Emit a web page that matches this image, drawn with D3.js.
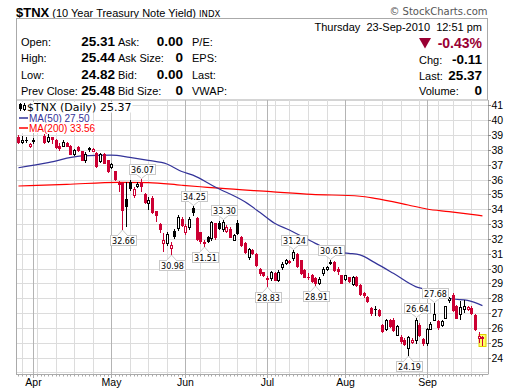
<!DOCTYPE html>
<html><head><meta charset="utf-8">
<script src="https://cdn.jsdelivr.net/npm/d3@7"></script>
<style>
html,body{margin:0;padding:0;background:#fff;}
svg{display:block;}
text{white-space:pre;}
</style></head>
<body><svg id="c" width="520" height="391"></svg>
<script>
// ---------------- DATA ----------------
const dates = [
"2010-03-26","2010-03-29","2010-03-30","2010-03-31",
"2010-04-01","2010-04-05","2010-04-06","2010-04-07","2010-04-08","2010-04-09","2010-04-12","2010-04-13","2010-04-14","2010-04-15","2010-04-16","2010-04-19","2010-04-20","2010-04-21","2010-04-22","2010-04-23","2010-04-26","2010-04-27","2010-04-28","2010-04-29","2010-04-30",
"2010-05-03","2010-05-04","2010-05-05","2010-05-06","2010-05-07","2010-05-10","2010-05-11","2010-05-12","2010-05-13","2010-05-14","2010-05-17","2010-05-18","2010-05-19","2010-05-20","2010-05-21","2010-05-24","2010-05-25","2010-05-26","2010-05-27","2010-05-28",
"2010-06-01","2010-06-02","2010-06-03","2010-06-04","2010-06-07","2010-06-08","2010-06-09","2010-06-10","2010-06-11","2010-06-14","2010-06-15","2010-06-16","2010-06-17","2010-06-18","2010-06-21","2010-06-22","2010-06-23","2010-06-24","2010-06-25","2010-06-28","2010-06-29","2010-06-30",
"2010-07-01","2010-07-02","2010-07-06","2010-07-07","2010-07-08","2010-07-09","2010-07-12","2010-07-13","2010-07-14","2010-07-15","2010-07-16","2010-07-19","2010-07-20","2010-07-21","2010-07-22","2010-07-23","2010-07-26","2010-07-27","2010-07-28","2010-07-29","2010-07-30",
"2010-08-02","2010-08-03","2010-08-04","2010-08-05","2010-08-06","2010-08-09","2010-08-10","2010-08-11","2010-08-12","2010-08-13","2010-08-16","2010-08-17","2010-08-18","2010-08-19","2010-08-20","2010-08-23","2010-08-24","2010-08-25","2010-08-26","2010-08-27","2010-08-30","2010-08-31",
"2010-09-01","2010-09-02","2010-09-03","2010-09-07","2010-09-08","2010-09-09","2010-09-10","2010-09-13","2010-09-14","2010-09-15","2010-09-16","2010-09-17","2010-09-20","2010-09-21","2010-09-22","2010-09-23"];

const open = [38.90,38.55,38.65,38.25,38.60,39.40,39.80,38.95,38.60,38.85,38.70,38.25,38.30,38.50,38.30,37.75,38.20,37.90,37.30,38.05,37.95,37.80,37.25,37.70,37.30,
36.85,36.55,35.75,35.80,34.70,35.85,34.95,35.60,35.75,35.05,34.45,34.75,33.85,33.00,31.70,31.75,31.40,32.55,32.75,33.35,
32.50,32.80,34.10,33.40,32.45,31.70,32.15,32.05,33.05,33.10,32.65,32.55,32.70,31.95,33.05,32.15,31.70,30.75,31.25,31.00,30.00,29.75,
29.35,29.35,29.70,29.25,30.10,30.38,30.48,30.70,30.95,30.55,29.90,29.45,29.60,29.35,29.05,29.70,30.00,30.40,30.45,29.95,29.55,
29.30,29.40,28.95,29.45,28.90,28.35,28.10,27.35,27.25,27.20,26.20,25.95,26.55,26.55,25.55,25.40,25.20,24.65,25.05,25.20,26.20,25.25,
24.95,25.95,26.55,26.45,26.20,26.70,27.85,28.25,27.50,26.95,27.25,27.30,27.35,26.85,25.35,25.31];
const high = [39.00,38.95,38.85,38.45,38.80,40.10,39.90,39.05,39.05,38.90,38.75,38.45,38.70,38.55,38.35,38.05,38.25,37.95,37.85,38.20,38.10,37.85,37.80,37.80,37.35,
37.15,36.60,35.90,35.85,35.85,35.95,35.50,35.82,36.07,35.10,34.80,34.90,33.90,33.05,32.40,32.45,31.82,32.70,33.60,33.45,
33.00,33.45,34.25,33.50,32.50,31.95,32.20,33.20,33.10,33.20,33.30,32.95,32.80,32.35,33.25,32.20,31.80,31.40,31.30,31.05,30.05,29.80,
29.50,29.85,29.75,29.90,30.45,30.65,30.60,31.24,31.05,30.60,29.95,29.70,29.65,29.40,29.40,30.10,30.15,30.61,30.50,30.10,29.60,
29.60,29.45,29.50,29.50,28.95,28.45,28.15,27.40,27.50,27.25,26.25,26.60,26.60,26.70,26.20,25.50,25.30,25.45,25.35,26.64,26.35,25.35,
26.00,26.40,27.68,26.50,26.55,27.50,28.10,28.35,27.55,27.80,27.85,27.50,27.45,26.95,25.70,25.44];
const low = [38.45,38.45,38.55,38.20,38.45,39.35,39.40,38.50,38.55,38.50,38.10,38.00,38.25,38.25,37.70,37.65,37.90,37.30,37.20,37.95,37.90,36.85,37.20,37.10,36.50,
36.80,35.95,35.20,32.66,32.90,35.30,34.85,35.50,35.20,34.40,34.00,33.75,33.20,32.50,31.20,31.60,30.98,32.05,32.60,32.85,
32.30,32.70,33.60,31.90,31.75,31.51,31.80,31.95,32.00,32.65,32.55,32.45,32.10,31.90,32.35,31.50,31.05,30.65,31.00,30.20,29.60,29.50,
28.83,29.20,29.20,29.15,30.00,30.30,30.35,30.60,30.10,29.65,29.40,29.30,29.10,28.91,28.95,29.60,29.90,30.30,29.85,29.65,29.00,
29.25,29.10,28.90,28.80,28.20,28.05,27.75,26.90,26.85,26.80,25.75,25.85,26.05,25.80,25.50,25.00,24.85,24.19,24.95,24.95,25.45,24.85,
24.85,25.90,26.50,25.95,26.15,26.65,27.75,27.15,26.65,26.60,27.10,27.20,26.95,25.85,25.05,24.82];
const close = [38.55,38.65,38.70,38.38,38.65,39.85,39.55,38.55,38.90,38.75,38.20,38.15,38.55,38.30,37.75,38.00,37.97,37.35,37.75,38.10,38.05,36.90,37.70,37.15,36.60,
37.05,36.05,35.70,33.95,34.25,35.45,35.40,35.70,35.55,34.50,34.65,33.80,33.60,32.65,31.95,32.35,31.60,32.20,33.45,32.95,
32.90,33.35,33.80,32.00,31.85,31.78,31.85,33.15,32.10,32.75,33.15,32.80,32.15,32.25,32.40,31.60,31.15,31.35,31.05,30.25,29.70,29.60,
29.30,29.75,29.25,29.80,30.30,30.55,30.45,31.10,30.15,29.70,29.45,29.40,29.15,29.00,29.30,30.00,30.08,30.45,29.90,29.85,29.05,
29.55,29.15,29.45,28.90,28.30,28.20,27.80,27.00,27.30,26.90,25.80,26.50,26.10,25.85,26.10,25.10,24.90,25.40,25.20,26.50,25.55,24.95,
25.90,26.25,26.95,26.05,26.45,27.45,28.00,27.20,26.70,27.40,27.45,27.40,27.00,25.95,25.48,25.37];
const prevCloseBefore = 38.95;

// moving averages at sample trading days
const ma50Idx = [0,8,17,25,30,35,40,44,47,53,61,65,69,73,80,85,89,92,96,101,107,110,112,117,121,125];
const ma50Val = [36.80,37.15,37.60,37.65,37.50,37.30,37.05,36.55,36.30,35.50,34.50,33.80,33.06,32.60,31.70,31.14,31.03,30.92,30.40,29.68,28.78,28.55,28.25,27.95,27.85,27.50];
const ma200Idx = [0,13,27,35,44,49,54,68,79,92,96,105,110,116,125];
const ma200Val = [35.57,35.68,35.82,35.80,35.62,35.52,35.42,35.19,35.01,34.88,34.74,34.29,34.02,33.84,33.56];

// swing labels
const swingIdx  = [28,33,41,47,50,55,67,74,80,84,105,107,112];
const swingType = ["low","high","low","high","low","high","low","high","low","high","low","high","high"];

const yTicks = [24,25,26,27,28,29,30,31,32,33,34,35,36,37,38,39,40,41];
const yGrid = [23,24,25,26,27,28,29,30,31,32,33,34,35,36,37,38,39,40,41];
const monthNames = ["Jan","Feb","Mar","Apr","May","Jun","Jul","Aug","Sep","Oct","Nov","Dec"];

const headerLeftLabels = [["Open:","25.31","Ask:","0.00","P/E:"],["High:","25.44","Ask Size:","0","EPS:"],["Low:","24.82","Bid:","0.00","Last:"],["Prev Close:","25.48","Bid Size:","0","VWAP:"]];
const headerRightLabels = [["Chg:","-0.11"],["Last:","25.37"],["Volume:","0"]];

// ---------------- DRAW ----------------
const svg = d3.select("#c");
const L = 16, R = 488, T = 100, B = 374;
const x = d3.scaleLinear().domain([-0.66, 126.5]).range([L, R]);
const y = d3.scaleLinear().domain([22.89, 41.37]).range([B, T]);
const RED = "#cc0033", DRED = "#990033", BLUE = "#333399", MARED = "#ff0000";
const sans = "'Liberation Sans', Arial, sans-serif";
const dv = "'DejaVu Sans', Verdana, sans-serif";

svg.append("rect").attr("width",520).attr("height",391).attr("fill","#fff");

// title
const title = svg.append("text").attr("x",16).attr("y",16.5).attr("font-family",sans);
title.append("tspan").attr("font-weight","bold").attr("font-size",13).text("$TNX");
title.append("tspan").attr("font-size",11).text(" (10 Year Treasury Note Yield) ");
title.append("tspan").attr("font-size",8.5).attr("font-family",dv).text("INDX");
svg.append("text").attr("x",487.5).attr("y",15).attr("text-anchor","end").attr("font-family",dv)
  .attr("font-size",10).attr("fill","#555").text("\u00A9 StockCharts.com");

// header box
svg.append("rect").attr("x",16.5).attr("y",18.5).attr("width",471).attr("height",81.5).attr("fill","none").attr("stroke","#aaa");
const rowY = [46,62.3,78.7,95];
headerLeftLabels.forEach((r,k)=>{
  const g = svg.append("g").attr("font-family",sans);
  g.append("text").attr("x",21).attr("y",rowY[k]).attr("font-size",11).text(r[0]);
  g.append("text").attr("x",115).attr("y",rowY[k]).attr("font-size",13.5).attr("font-weight","bold").attr("text-anchor","end").text(r[1]);
  g.append("text").attr("x",118).attr("y",rowY[k]).attr("font-size",11).text(r[2]);
  g.append("text").attr("x",183).attr("y",rowY[k]).attr("font-size",13.5).attr("font-weight","bold").attr("text-anchor","end").text(r[3]);
  g.append("text").attr("x",192).attr("y",rowY[k]).attr("font-size",11).text(r[4]);
});
svg.append("text").attr("x",482).attr("y",30.5).attr("text-anchor","end").attr("font-family",sans).attr("font-size",11)
  .text("Thursday  23-Sep-2010  12:51 pm");
svg.append("path").attr("d","M419,38L431,38L425,48.5Z").attr("fill",DRED);
svg.append("text").attr("x",482).attr("y",48).attr("text-anchor","end").attr("font-family",sans).attr("font-size",14)
  .attr("font-weight","bold").attr("fill",DRED).text("-0.43%");
const rY2 = [63.7,79.7,95];
headerRightLabels.forEach((r,k)=>{
  svg.append("text").attr("x",419).attr("y",rY2[k]).attr("font-family",sans).attr("font-size",11).text(r[0]);
  svg.append("text").attr("x",482).attr("y",rY2[k]).attr("font-family",sans).attr("font-size",13.5).attr("font-weight","bold").attr("text-anchor","end").text(r[1]);
});

// plot grid
const plot = svg.append("g");
const idx = d3.range(dates.length);
const parsed = dates.map(d=>new Date(d+"T12:00:00"));
const monthStart = idx.filter(i=> i>0 && parsed[i].getMonth()!==parsed[i-1].getMonth());
const weekStart = idx.filter(i=> i>0 && (parsed[i]-parsed[i-1])>2.5*864e5 && !monthStart.includes(i));
const px = v => Math.round(v)+0.5;

plot.selectAll(".hg").data(yGrid).join("line")
  .attr("x1",L).attr("x2",R).attr("y1",d=>px(y(d))).attr("y2",d=>px(y(d))).attr("stroke","#dcdcdc");
plot.selectAll(".wg").data(weekStart).join("line")
  .attr("x1",d=>px(x(d))).attr("x2",d=>px(x(d))).attr("y1",T).attr("y2",B).attr("stroke","#dcdcdc");
plot.selectAll(".mg").data(monthStart).join("line")
  .attr("x1",d=>px(x(d))).attr("x2",d=>px(x(d))).attr("y1",T).attr("y2",B).attr("stroke","#b4b4b4");

// frame
plot.append("line").attr("x1",L+0.5).attr("x2",L+0.5).attr("y1",T).attr("y2",B+0.5).attr("stroke","#aaa");
plot.append("line").attr("x1",L).attr("x2",R).attr("y1",B+0.5).attr("y2",B+0.5).attr("stroke","#aaa");
plot.append("line").attr("x1",R+0.5).attr("x2",R+0.5).attr("y1",T).attr("y2",B+0.5).attr("stroke","#aaa");
// bottom day ticks
plot.selectAll(".dt").data(idx).join("line")
  .attr("x1",d=>px(x(d))).attr("x2",d=>px(x(d))).attr("y1",B+1).attr("y2",d=>monthStart.includes(d)?B+4:B+2.5).attr("stroke","#aaa");

// moving averages
const lineGen = d3.line().x(d=>x(d[0])).y(d=>y(d[1])).curve(d3.curveMonotoneX);
plot.append("path").datum(ma200Idx.map((d,k)=>[d,ma200Val[k]])).attr("d",lineGen)
  .attr("fill","none").attr("stroke",MARED).attr("stroke-width",1.2);
plot.append("path").datum(ma50Idx.map((d,k)=>[d,ma50Val[k]])).attr("d",lineGen)
  .attr("fill","none").attr("stroke",BLUE).attr("stroke-width",1.2);

// highlight last
const last = dates.length-1;
plot.append("rect").attr("x",px(x(last))-3.5).attr("width",7).attr("y",Math.round(y(high[last]))-1.5)
  .attr("height",Math.round(y(low[last]))-Math.round(y(high[last]))+3).attr("fill","#ffff66").attr("stroke","#e0d000");

// candles
const cg = plot.append("g");
idx.forEach(i=>{
  const pc = i===0 ? prevCloseBefore : close[i-1];
  const col = close[i] < pc ? RED : "#000";
  const hollow = close[i] >= open[i];
  const cx = px(x(i));
  cg.append("line").attr("x1",cx).attr("x2",cx).attr("y1",Math.round(y(high[i]))).attr("y2",Math.round(y(low[i]))+1).attr("stroke",col);
  const top = Math.round(y(Math.max(open[i],close[i])));
  const bot = Math.round(y(Math.min(open[i],close[i])));
  if (bot-top < 1) {
    cg.append("line").attr("x1",cx-1.5).attr("x2",cx+1.5).attr("y1",top+0.5).attr("y2",top+0.5).attr("stroke",col);
  } else {
    cg.append("rect").attr("x",cx-1).attr("width",2).attr("y",top+0.5).attr("height",bot-top)
      .attr("fill",hollow?"#fff":col).attr("stroke",col);
  }
});

// swing labels
swingIdx.forEach((i,k)=>{
  const isHigh = swingType[k]==="high";
  const v = isHigh ? high[i] : low[i];
  const cx = px(x(i));
  const tip = isHigh ? Math.round(y(v))-0.5 : Math.round(y(v))+1;
  const g = plot.append("g");
  const bw = 26, bh = 10;
  let bx = cx - bw/2;
  const by = isHigh ? tip-5-bh : tip+5;
  g.append("rect").attr("x",Math.round(bx)+0.5).attr("y",Math.round(by)+0.5).attr("width",bw).attr("height",bh)
    .attr("fill","#fff").attr("stroke","#c8c8c8");
  const edge = isHigh ? Math.round(by)+0.5+bh : Math.round(by)+0.5;
  g.append("path").attr("d",`M${cx-5},${edge}L${cx},${tip}L${cx+5},${edge}`).attr("fill","#fff").attr("stroke","#c8c8c8");
  g.append("line").attr("x1",cx-4.5).attr("x2",cx+4.5).attr("y1",edge).attr("y2",edge).attr("stroke","#fff").attr("stroke-width",1.2);
  g.append("text").attr("x",Math.round(bx)+0.5+bw/2).attr("y",Math.round(by)+bh-1).attr("text-anchor","middle")
    .attr("font-family",dv).attr("font-size",8).attr("fill","#000").text(v.toFixed(2));
});

// legend
const lg = svg.append("g");
const leg = [
  {t:"$TNX (Daily) 25.37", c:"#000", yb:111, fs:11, ff:dv, x:27},
  {t:"MA(50) 27.50", c:BLUE, yb:121.5, fs:10, ff:sans, x:29},
  {t:"MA(200) 33.56", c:MARED, yb:131.5, fs:10, ff:sans, x:29}
];
leg.forEach(l=>{
  const bg = lg.append("rect").attr("fill","#fff");
  const t = lg.append("text").attr("x",l.x).attr("y",l.yb).attr("font-family",l.ff).attr("font-size",l.fs).attr("fill",l.c).text(l.t);
  const w = t.node().getComputedTextLength();
  bg.attr("x",L+1).attr("y",l.yb-9).attr("width",l.x+w-L).attr("height",10.5);
});
lg.append("line").attr("x1",19).attr("x2",28).attr("y1",118).attr("y2",118).attr("stroke",BLUE).attr("stroke-width",1.5);
lg.append("line").attr("x1",19).attr("x2",28).attr("y1",128).attr("y2",128).attr("stroke",MARED).attr("stroke-width",1.5);
// icon
lg.append("line").attr("x1",20.5).attr("x2",20.5).attr("y1",103).attr("y2",111).attr("stroke","#000");
lg.append("rect").attr("x",19.5).attr("y",104.5).attr("width",2).attr("height",4).attr("fill","#000").attr("stroke","#000");
lg.append("line").attr("x1",24.5).attr("x2",24.5).attr("y1",103).attr("y2",111).attr("stroke","#000");
lg.append("rect").attr("x",23.5).attr("y",105.5).attr("width",2).attr("height",4).attr("fill","#fff").attr("stroke","#000");

// y axis
const ya = svg.append("g").attr("font-family",sans).attr("font-size",10.5);
yTicks.forEach(v=>{
  ya.append("line").attr("x1",R).attr("x2",R+3).attr("y1",px(y(v))).attr("y2",px(y(v))).attr("stroke","#888");
  ya.append("text").attr("x",491.5).attr("y",y(v)+4).text(v);
});
// x axis months
const xa = svg.append("g").attr("font-family",sans).attr("font-size",10.5);
monthStart.forEach(i=>{
  xa.append("text").attr("x",px(x(i))).attr("y",385.5).attr("text-anchor","middle").text(monthNames[parsed[i].getMonth()]);
});
</script></body></html>
